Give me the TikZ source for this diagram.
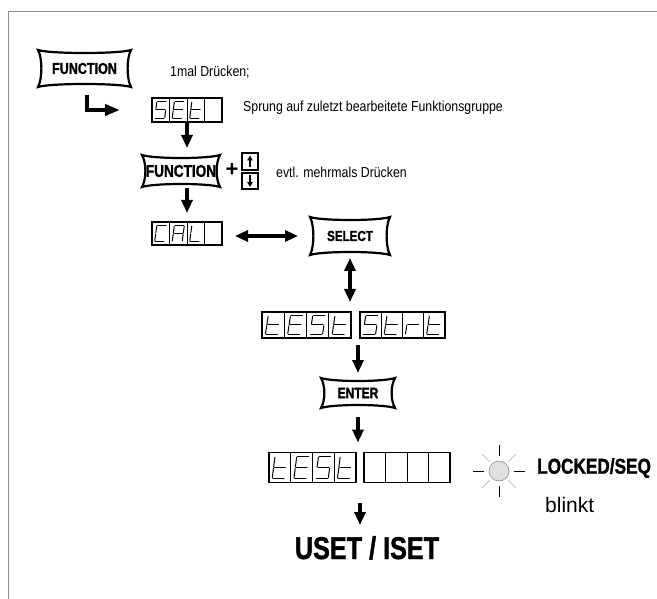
\documentclass[tikz,border=0pt]{standalone}
\usepackage{fontspec}
\setmainfont{Liberation Sans}
\newfontfamily\cnd[FakeStretch=0.85]{Liberation Sans}
\newfontfamily\cndb{Liberation Sans Bold}[FakeStretch=0.8,FakeBold=1.3]
\usetikzlibrary{arrows.meta,calc}

\def\sgsl{0.22}
\def\sgS{a,f,g,c,d}
\def\sgE{a,f,g,e,d}
\def\sgT{f,g,e,d}
\def\sgC{a,f,e,d}
\def\sgA{a,b,c,e,f,g}
\def\sgL{f,e,d}
\def\sgR{e,g}

\tikzset{
  pics/seg7/.style={code={%
    \edef\seglist{#1}%
    \foreach \s in \seglist {%
      \if a\s \draw[segline] (-1+\sgsl,-1) -- (1+\sgsl,-1);\fi
      \if b\s \draw[segline] (1+\sgsl,-1) -- (1,0);\fi
      \if c\s \draw[segline] (1,0) -- (1-\sgsl,1);\fi
      \if d\s \draw[segline] (-1-\sgsl,1) -- (1-\sgsl,1);\fi
      \if e\s \draw[segline] (-1,0) -- (-1-\sgsl,1);\fi
      \if f\s \draw[segline] (-1+\sgsl,-1) -- (-1,0);\fi
      \if g\s \draw[segline] (-1,0) -- (1,0);\fi
    }}}
}

\newcommand\keyshape[1]{%
  \draw[keyline] (#1.north west)
    .. controls ([xshift=12pt,yshift=-4pt]#1.north west) and ([xshift=-12pt,yshift=-4pt]#1.north east) .. (#1.north east)
    .. controls ([xshift=-4.5pt,yshift=-8pt]#1.north east) and ([xshift=-4.5pt,yshift=8pt]#1.south east) .. (#1.south east)
    .. controls ([xshift=-12pt,yshift=4pt]#1.south east) and ([xshift=12pt,yshift=4pt]#1.south west) .. (#1.south west)
    .. controls ([xshift=4.5pt,yshift=8pt]#1.south west) and ([xshift=4.5pt,yshift=-8pt]#1.north west) .. cycle;}

\newcommand\dispcells[1]{%
  \foreach \k in {1,2,3}{%
    \draw[divline] ($(#1.north west)!\k/4!(#1.north east)$) -- ($(#1.south west)!\k/4!(#1.south east)$);}}

\newcommand\dispglyphs[3]{%
  \foreach \g [count=\k] in {#3}{%
    \pgfmathsetmacro\fr{(2*\k-1)/8}%
    \pic[#2] at ($(#1.west)!\fr!(#1.east)$) {seg7=\g};}}

\begin{document}
\begin{tikzpicture}[x=1pt,y=-1pt,
  framel/.style={draw=black!45, line width=0.9pt},
  keynode/.style={inner sep=0pt, outer sep=0pt},
  keyline/.style={line width=2.2pt},
  disp/.style={draw, line width=1.5pt, inner sep=0pt, outer sep=0pt},
  divline/.style={line width=0.9pt},
  segline/.style={line width=1pt, shorten <=0.7pt, shorten >=0.7pt, line cap=round},
  arr/.style={line width=3.4pt, -{Triangle[width=11pt,length=13pt]}},
  darr/.style={line width=3.4pt, {Triangle[width=11pt,length=13pt]}-{Triangle[width=11pt,length=13pt]}},
  txt/.style={anchor=west, inner sep=0pt, font=\cnd\fontsize{14.5}{16}\selectfont},
  keytxt/.style={font=\cndb\fontsize{#1}{#1}\selectfont},
]
\useasboundingbox (0,0) rectangle (657,599);
\draw[framel] (8,599) -- (8,11) -- (657,11);

% FUNCTION 1
\node[keynode, minimum width=93pt, minimum height=37pt, keytxt=15.7] (fn1) at (84.5,68.5) {FUNCTION};
\keyshape{fn1}
\node[txt] (t1mal) at (170,72) {1mal Drücken;};

% SET display
\node[disp, minimum width=70pt, minimum height=24pt] (set) at (187,110) {};
\dispcells{set}
\dispglyphs{set}{xscale=5,yscale=8.3}{\sgS,\sgE,\sgT}
\node[txt] (tsprung) at (243,108) {Sprung auf zuletzt bearbeitete Funktionsgruppe};

% L arrow
\draw[line width=4.5pt, -{Triangle[width=11pt,length=15pt]}] ([xshift=2.5pt,yshift=-8pt]fn1.south) |- ([xshift=-32pt]set.west);

% FUNCTION 2
\node[keynode, minimum width=78pt, minimum height=32pt, keytxt=17] (fn2) at (181,171) {FUNCTION};
\keyshape{fn2}
\node[inner sep=0pt, font=\bfseries\fontsize{22}{22}\selectfont] (plus) at (232,170) {+};
\node[disp, minimum width=16pt, minimum height=17pt] (up) at (250,161.5) {};
\node[disp, minimum width=16pt, minimum height=16pt] (dn) at (250,181) {};
\draw[line width=1.6pt, -{Triangle[width=5.5pt,length=5pt]}] ([yshift=-5.5pt]up.center) -- ([yshift=6pt]up.center);
\draw[line width=1.6pt, -{Triangle[width=5.5pt,length=5pt]}] ([yshift=5.5pt]dn.center) -- ([yshift=-6pt]dn.center);
\node[txt] (tevtl) at (276,172) {evtl. mehrmals Drücken};

\draw[arr, shorten <=1pt, shorten >=7pt] (set.south) -- (set.south |- fn2.north);

% CAL
\node[disp, minimum width=70pt, minimum height=23pt] (cal) at (187,233.5) {};
\dispcells{cal}
\dispglyphs{cal}{xscale=5,yscale=8}{\sgC,\sgA,\sgL}
\draw[arr, shorten <=1pt, shorten >=9pt] (cal.north |- fn2.south) -- (cal.north);

% SELECT
\node[keynode, minimum width=80pt, minimum height=38pt, keytxt=14.5] (sel) at (350,236) {SELECT};
\keyshape{sel}
\draw[darr, shorten <=12pt, shorten >=13pt] (sel.west) -- (sel.west -| cal.east);

% tESt Strt
\node[disp, minimum width=89pt, minimum height=26pt] (ta) at (306.5,325) {};
\dispcells{ta}
\dispglyphs{ta}{xscale=6.3,yscale=9.3}{\sgT,\sgE,\sgS,\sgT}
\node[disp, minimum width=85pt, minimum height=26pt] (tb) at (402.5,325) {};
\dispcells{tb}
\dispglyphs{tb}{xscale=6.3,yscale=9.3}{\sgS,\sgT,\sgR,\sgT}
\draw[darr, shorten <=3pt, shorten >=10pt] (sel.south) -- (sel.south |- ta.north);

% ENTER
\node[keynode, minimum width=74pt, minimum height=30pt, keytxt=15] (enter) at (358,393) {ENTER};
\keyshape{enter}
\draw[arr, shorten <=7pt, shorten >=5pt] (enter.north |- ta.south) -- (enter.north);

% final tESt
\node[disp, minimum width=87pt, minimum height=30pt] (fa) at (312.5,467.5) {};
\dispcells{fa}
\dispglyphs{fa}{xscale=6.3,yscale=10.8}{\sgT,\sgE,\sgS,\sgT}
\node[disp, minimum width=86pt, minimum height=30pt] (fb) at (407,467.5) {};
\dispcells{fb}
\draw[arr, shorten <=9pt, shorten >=10pt] (enter.south) -- (enter.south |- fa.north);

% lamp
\node[circle, inner sep=0pt, minimum size=20pt, fill=black!12, draw=black!45, line width=0.6pt] (lamp) at (499,471) {};
\foreach \a in {0,90,180,270}
  \draw[line width=0.9pt] ($(lamp.center)+(\a:15)$) -- ($(lamp.center)+(\a:26)$);
\foreach \a in {45,135,225,315}
  \draw[black!35, line width=0.6pt] ($(lamp.center)+(\a:13)$) -- ($(lamp.center)+(\a:24)$);
\node[anchor=west, inner sep=0pt, font=\cndb\fontsize{21.5}{21.5}\selectfont] (locked) at (537,468) {LOCKED/SEQ};
\node[anchor=west, inner sep=0pt, font=\fontsize{21}{21}\selectfont] (blinkt) at (545,505) {blinkt};

% USET / ISET
\node[anchor=north, inner sep=0pt, font=\cndb\fontsize{31.5}{32}\selectfont] (uset) at (367,536) {USET / ISET};
\coordinate (gapf) at ($(fa.south east)!0.5!(fb.south west)$);
\draw[arr, shorten <=20pt, shorten >=11pt] (gapf) -- (gapf |- uset.north);
\end{tikzpicture}
\end{document}
